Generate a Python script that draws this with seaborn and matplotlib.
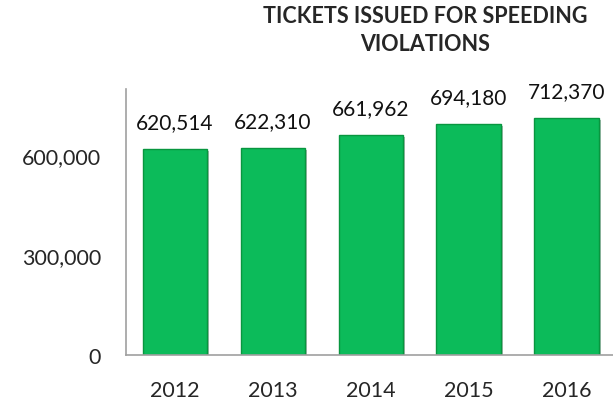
import numpy as np
import pandas as pd
import seaborn as sns
import matplotlib.pyplot as plt
import matplotlib.patheffects as pe
from matplotlib.ticker import FuncFormatter

years = ['2012', '2013', '2014', '2015', '2016']
tickets = [620514, 622310, 661962, 694180, 712370]

df = pd.DataFrame({'year': years, 'tickets': tickets})

sns.set_style('white')
plt.rcParams['font.family'] = ['Lato', 'DejaVu Sans']

fig = plt.figure(figsize=(6.13, 4.02), dpi=100)
ax = fig.add_axes([0.2055, 0.1144, 0.799, 0.6617])

sns.barplot(data=df, x='year', y='tickets', color='#0cbb5a', width=0.66,
            saturation=1, edgecolor='#08963f', linewidth=1.0, ax=ax)

for bar in ax.patches:
    bar.set_path_effects([pe.SimplePatchShadow(offset=(1.5, -1.5), alpha=0.35),
                          pe.Normal()])

for i, v in enumerate(tickets):
    ax.annotate(f'{v:,}', (i, v), xytext=(0, 12), textcoords='offset points',
                ha='center', va='bottom', fontsize=15, color='#111111')

ax.set_ylim(0, 800000)
ax.set_xlim(-0.5, 4.5)
ax.set_yticks([0, 300000, 600000])
ax.yaxis.set_major_formatter(FuncFormatter(lambda v, p: f'{int(v):,}'))
ax.set_xlabel('')
ax.set_ylabel('')

ax.set_xticks(np.arange(-0.5, 5, 1), minor=True)
ax.tick_params(axis='x', which='major', length=0, pad=18, labelsize=15.5)
ax.tick_params(axis='x', which='minor', length=7, color='#a0a0a0', width=1)
ax.tick_params(axis='y', length=0, pad=18, labelsize=15.5)

for s in ['top', 'right']:
    ax.spines[s].set_visible(False)
for s in ['left', 'bottom']:
    ax.spines[s].set_color('#a0a0a0')
    ax.spines[s].set_linewidth(1.2)

fig.text(0.694, 0.985, 'TICKETS ISSUED FOR SPEEDING\nVIOLATIONS', ha='center', va='top',
         fontsize=15.5, fontweight='bold', linespacing=1.4)

fig.savefig('out.png', dpi=100)
